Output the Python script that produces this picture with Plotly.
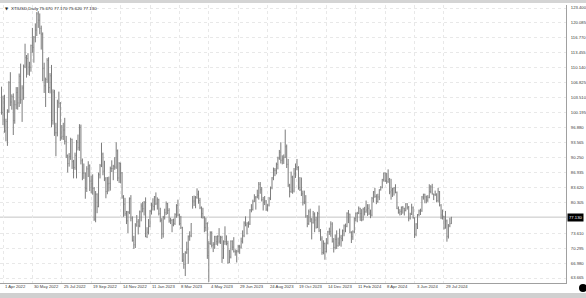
import plotly.graph_objects as go

# 2-trading-day OHLC bars of XTIUSD (Mar 2022 - Aug 2024)
open_ = [
    104.2,
    100.3,103.3,96.2,98.3,100.6,106.9,102.6,103.8,98.5,102.0,104.7,102.4,108.3,103.1,105.7,110.5,112.4,112.2,110.3,110.3,
    115.1,114.7,116.9,118.5,122.1,120.7,118.9,117.6,110.0,106.2,107.6,111.8,105.8,108.4,98.5,104.8,95.8,95.8,102.6,102.3,
    94.7,95.0,96.4,93.9,90.7,89.0,90.5,94.3,89.4,88.1,90.8,93.7,92.5,97.0,89.6,86.9,86.9,83.5,87.8,88.5,
    85.1,84.5,83.5,76.7,82.2,79.5,86.5,88.5,91.1,87.3,85.6,82.8,84.5,84.6,87.9,87.9,88.4,88.2,91.8,85.8,
    89.0,86.9,81.6,80.0,77.9,76.3,78.2,81.2,76.9,72.0,71.0,75.4,76.1,75.2,78.3,79.6,79.0,80.3,72.8,73.8,
    75.1,78.4,79.8,79.5,81.6,80.1,81.0,77.9,76.4,73.4,77.1,78.1,80.1,78.6,76.3,76.4,75.4,75.7,77.7,79.7,
    77.6,75.7,74.8,67.6,66.7,69.3,70.0,72.8,73.0,79.5,80.7,80.7,81.5,82.2,80.8,79.2,77.9,77.1,74.8,75.7,
    68.6,71.3,73.7,70.9,71.1,72.8,71.7,72.9,71.8,72.6,68.1,71.7,71.7,71.3,67.1,68.3,71.8,70.5,69.5,69.4,
    69.6,70.6,70.5,71.8,73.0,75.8,75.4,75.8,75.6,78.7,78.8,80.6,81.4,81.6,81.9,84.4,83.2,81.0,80.4,80.7,
    78.9,79.8,81.2,83.6,85.8,87.5,87.5,88.8,90.2,91.5,89.7,90.0,90.4,92.7,88.8,84.2,82.8,86.0,82.9,86.7,
    88.3,88.1,83.7,83.2,82.3,80.4,80.5,77.4,75.7,78.3,76.7,75.9,77.8,76.5,74.9,77.9,74.1,72.3,69.3,71.3,
    69.5,71.4,73.9,73.9,75.6,71.8,70.4,72.2,70.8,71.4,72.7,72.4,74.1,75.2,75.1,78.0,77.8,73.8,72.8,73.9,
    76.8,77.9,78.0,79.1,77.9,76.5,78.9,78.3,78.7,79.1,78.0,77.6,81.3,82.7,81.7,80.6,81.6,83.2,83.7,85.4,
    86.9,85.2,85.0,85.4,82.7,83.1,83.4,83.6,82.6,79.0,78.1,78.4,79.3,79.1,78.6,80.1,79.3,76.9,77.8,79.2,
    77.0,73.3,75.6,77.7,78.5,78.5,81.6,82.2,81.6,80.9,81.5,82.8,83.8,82.3,82.1,82.2,80.8,82.8,79.8,77.6,
    77.2,74.7,76.3,72.9,75.2,75.67,
]
high = [
    106.0,
    104.0,104.2,98.9,101.0,107.2,109.2,104.3,104.5,103.0,105.9,105.9,108.9,111.1,106.3,110.9,115.5,113.0,113.4,111.5,115.3,
    119.0,117.2,120.0,122.5,122.7,122.2,119.5,118.0,111.3,108.0,112.3,112.5,109.0,110.8,105.4,105.3,98.0,103.1,104.9,102.6,
    97.5,98.0,99.1,95.1,91.0,91.3,94.7,94.5,89.8,91.4,94.2,95.4,97.7,97.6,90.1,89.0,87.0,88.4,89.5,88.8,
    86.3,86.6,83.8,82.9,82.4,87.0,88.9,93.6,91.4,89.6,86.0,86.0,86.1,88.3,89.7,88.7,90.4,93.7,92.1,89.3,
    89.2,87.1,82.0,81.4,78.5,78.5,81.5,82.0,77.3,73.0,75.8,77.6,76.7,78.6,80.2,80.5,80.7,81.5,74.9,76.7,
    78.7,80.3,81.3,81.8,82.6,81.5,81.2,79.2,76.9,77.4,79.0,80.6,80.3,79.1,77.0,76.7,76.8,78.0,80.0,81.0,
    77.9,77.4,75.0,69.2,69.6,71.7,73.1,74.0,75.8,81.8,81.9,81.8,83.5,83.0,81.4,79.5,79.2,77.3,77.0,76.0,
    71.8,74.0,74.0,71.6,73.0,73.0,73.1,74.7,73.0,73.0,72.0,75.1,73.1,71.9,69.9,72.0,72.0,72.7,70.0,69.9,
    71.0,71.0,72.6,74.2,76.2,77.3,76.0,76.2,78.9,80.0,81.0,82.2,81.8,83.2,84.9,84.9,83.8,81.6,81.8,80.9,
    80.0,81.6,83.9,86.0,88.1,88.0,89.2,90.5,92.0,93.7,90.8,91.0,96.5,93.2,90.0,84.5,87.2,86.3,88.0,89.0,
    90.0,88.4,86.0,85.9,83.0,83.0,82.0,77.6,78.8,79.0,76.9,78.5,78.2,77.2,78.3,79.7,74.5,72.9,72.0,71.5,
    72.5,74.1,74.8,76.2,76.0,72.5,73.3,74.2,72.6,74.6,73.2,74.4,75.5,75.7,78.2,78.7,77.9,74.0,74.2,77.1,
    78.2,78.3,79.5,79.2,78.9,79.2,79.4,80.8,80.0,80.0,78.8,81.6,82.9,83.6,82.2,82.3,83.3,84.0,85.6,87.0,
    87.0,86.9,87.7,85.8,85.6,83.6,83.8,84.4,82.8,79.5,78.9,79.5,79.6,79.2,80.2,80.2,79.6,78.1,80.1,79.5,
    77.1,75.8,77.8,78.8,79.0,81.8,82.3,82.3,81.9,82.0,84.4,84.2,84.5,82.3,83.0,82.4,83.6,82.9,80.0,78.8,
    77.4,78.5,76.6,75.6,77.0,77.17,
]
low = [
    99.8,
    97.5,95.8,93.9,92.9,100.2,101.7,100.9,95.3,97.8,101.0,100.9,101.5,102.2,98.2,103.1,110.1,108.0,108.6,108.4,109.3,
    113.5,111.3,115.8,117.2,119.0,117.6,114.2,107.2,104.6,101.5,106.8,104.6,104.5,97.0,97.6,95.1,90.6,95.0,101.3,94.0,
    94.3,94.2,93.2,90.2,87.0,88.3,89.8,87.8,85.7,87.6,85.7,91.9,91.8,88.8,85.3,85.6,81.2,82.7,86.0,82.9,
    82.4,82.1,76.3,76.0,78.0,79.3,85.7,88.2,86.4,85.1,81.3,82.2,82.8,83.0,87.1,85.3,87.6,87.8,85.1,84.7,
    84.6,81.2,77.2,77.4,75.6,73.6,77.8,76.2,71.7,70.1,70.3,75.0,73.3,74.9,76.2,78.2,77.5,72.7,72.5,73.3,
    74.9,77.7,78.6,78.6,79.8,78.8,77.5,76.0,72.3,72.6,76.6,77.6,77.8,75.9,75.6,73.8,75.1,75.4,77.0,77.3,
    75.3,74.5,67.2,65.7,64.1,69.0,66.8,71.9,72.7,79.0,79.6,79.1,81.2,80.1,78.9,76.9,76.8,73.8,74.0,67.9,
    62.8,71.0,70.4,69.4,70.1,71.0,70.8,71.3,71.2,67.0,67.9,71.0,70.9,66.8,67.0,68.0,69.8,69.3,68.6,67.1,
    69.3,69.0,70.2,71.3,72.7,75.1,73.3,74.8,75.4,78.2,78.6,80.5,78.8,81.3,81.0,82.3,80.6,78.6,79.8,78.5,
    78.4,79.5,80.9,83.3,85.3,86.2,86.6,87.7,89.8,89.0,88.8,88.9,90.2,88.0,83.8,81.5,82.5,82.3,82.6,85.8,
    87.5,83.2,82.9,81.8,79.7,80.0,77.0,74.9,75.4,76.0,72.2,75.7,73.8,74.6,74.7,73.8,71.9,68.8,68.9,67.7,
    69.3,71.1,73.2,72.8,71.5,69.3,70.0,70.1,70.6,70.8,70.6,71.8,72.9,73.8,74.9,75.8,73.6,71.4,72.1,73.6,
    76.2,76.0,77.8,76.3,76.2,76.4,77.5,78.1,77.4,77.6,76.9,77.3,80.4,81.4,80.0,80.3,80.9,83.0,83.5,85.0,
    84.9,84.5,84.7,82.2,81.0,81.6,81.9,82.4,78.9,77.9,77.5,77.6,77.9,77.5,78.4,78.8,76.2,76.6,77.6,76.8,
    72.5,72.9,74.5,77.3,77.6,78.3,81.0,80.2,80.2,80.5,81.3,82.4,82.1,80.9,81.8,80.4,80.4,79.5,76.7,76.6,
    74.4,74.6,71.7,72.4,74.9,75.62,
]
close = [
    100.3,
    103.3,96.2,98.3,100.6,106.9,102.6,103.8,98.5,102.0,104.7,102.4,108.3,103.1,105.7,110.5,112.4,112.2,110.3,110.3,115.1,
    114.7,116.9,118.5,122.1,120.7,118.9,117.6,110.0,106.2,107.6,111.8,105.8,108.4,98.5,104.8,95.8,95.8,102.6,102.3,94.7,
    95.0,96.4,93.9,90.7,89.0,90.5,94.3,89.4,88.1,90.8,93.7,92.5,97.0,89.6,86.9,86.9,83.5,87.8,88.5,85.1,
    84.5,83.5,76.7,82.2,79.5,86.5,88.5,91.1,87.3,85.6,82.8,84.5,84.6,87.9,87.9,88.4,88.2,91.8,85.8,89.0,
    86.9,81.6,80.0,77.9,76.3,78.2,81.2,76.9,72.0,71.0,75.4,76.1,75.2,78.3,79.6,79.0,80.3,72.8,73.8,75.1,
    78.4,79.8,79.5,81.6,80.1,81.0,77.9,76.4,73.4,77.1,78.1,80.1,78.6,76.3,76.4,75.4,75.7,77.7,79.7,77.6,
    75.7,74.8,67.6,66.7,69.3,70.0,72.8,73.0,75.7,80.7,80.7,81.5,82.2,80.8,79.2,77.9,77.1,74.8,75.7,68.6,
    71.3,73.7,70.9,71.1,72.8,71.7,72.9,71.8,72.6,68.1,71.7,71.7,71.3,67.1,68.3,71.8,70.5,69.5,69.4,69.6,
    70.6,70.5,71.8,73.0,75.8,75.4,75.8,75.6,78.7,78.8,80.6,81.4,81.6,81.9,84.4,83.2,81.0,80.4,80.7,78.9,
    79.8,81.2,83.6,85.8,87.5,87.5,88.8,90.2,91.5,89.7,90.0,90.4,92.7,88.8,84.2,82.8,86.0,82.9,86.7,88.3,
    88.1,83.7,83.2,82.3,80.4,80.5,77.4,75.7,78.3,76.7,75.9,77.8,76.5,74.9,77.9,74.1,72.3,69.3,71.3,69.5,
    71.4,73.9,73.9,75.6,71.8,70.4,72.2,70.8,71.4,72.7,72.4,74.1,75.2,75.1,78.0,77.8,73.8,72.8,73.9,76.8,
    77.9,78.0,79.1,77.9,76.5,78.9,78.3,78.7,79.1,78.0,77.6,81.3,82.7,81.7,80.6,81.6,83.2,83.7,85.4,86.9,
    85.2,85.0,85.4,82.7,83.1,83.4,83.6,82.6,79.0,78.1,78.4,79.3,79.1,78.6,80.1,79.3,76.9,77.8,79.2,77.0,
    73.3,75.6,77.7,78.5,78.5,81.6,82.2,81.6,80.9,81.5,82.8,83.8,82.3,82.1,82.2,80.8,82.8,79.8,77.6,77.2,
    74.7,76.3,72.9,75.2,75.7,77.13,
]

date_labels = ["1 Apr 2022", "30 May 2022", "25 Jul 2022", "19 Sep 2022", "14 Nov 2022",
               "11 Jan 2023", "8 Mar 2023", "4 May 2023", "29 Jun 2023", "24 Aug 2023",
               "19 Oct 2023", "14 Dec 2023", "11 Feb 2024", "8 Apr 2024", "3 Jun 2024",
               "29 Jul 2024"]
price_ticks = [123.400, 120.085, 116.770, 113.455, 110.140, 106.825, 103.510, 100.195,
               96.880, 93.565, 90.250, 86.935, 83.620, 80.305, 73.610, 70.295, 66.980, 63.665]
last_price = 77.130
title_text = "XTIUSD,Daily 75.670 77.170 75.620 77.130"

bars_per_label = 20
label_pos = [1 + bars_per_label * i for i in range(len(date_labels))]
xs = list(range(len(close)))

FONT = "Liberation Sans"
BAR = "#7c7c7c"
GRID = "#e8e8e8"
TXT = "#3a3a3a"

fig = go.Figure(go.Ohlc(
    x=xs, open=open_, high=high, low=low, close=close,
    increasing=dict(line=dict(color=BAR, width=1)),
    decreasing=dict(line=dict(color=BAR, width=1)),
    tickwidth=0.3, hoverinfo="skip",
))

W, H = 586, 298
ml, mr, mt, mb = 0, 20, 5, 15
pw, ph = W - ml - mr, H - mt - mb

def py(ypix):  # pixel y -> paper y
    return (H - mb - ypix) / ph

def px(xpix):
    return (xpix - ml) / pw

fig.update_layout(
    width=W, height=H,
    margin=dict(l=ml, r=mr, t=mt, b=mb, pad=0),
    paper_bgcolor="white", plot_bgcolor="white",
    showlegend=False,
    font=dict(family=FONT, size=4, color=TXT),
    xaxis=dict(
        range=[-1.04, 384.0], tickvals=label_pos, showticklabels=False,
        showgrid=True, gridcolor=GRID, griddash="dot", gridwidth=1,
        zeroline=False, showline=True, linecolor="#a0a0a0", linewidth=1,
        ticks="", rangeslider=dict(visible=False), fixedrange=True,
    ),
    yaxis=dict(
        side="right", range=[62.559, 124.064],
        tickvals=price_ticks, ticktext=[f"{v:.3f}" for v in price_ticks],
        tickfont=dict(size=4.2, color=TXT, family=FONT),
        showgrid=True, gridcolor=GRID, griddash="dot", gridwidth=1,
        zeroline=False, showline=True, linecolor="#a0a0a0", linewidth=1,
        ticks="", ticklabelstandoff=3, fixedrange=True,
    ),
)

shapes = [
    dict(type="line", xref="paper", yref="y", x0=0, x1=1, y0=last_price, y1=last_price,
         line=dict(color="#c4c4c4", width=1), layer="below"),
    dict(type="rect", xref="paper", yref="paper", x0=0, x1=px(W), y0=py(3), y1=py(0),
         fillcolor="#d4d4d4", line=dict(width=0)),
    dict(type="rect", xref="paper", yref="paper", x0=0, x1=px(W), y0=py(298), y1=py(293),
         fillcolor="#d0d0d0", line=dict(width=0)),
    dict(type="circle", xref="paper", yref="paper", x0=px(579), x1=px(587), y0=py(292), y1=py(284),
         fillcolor="black", line=dict(width=0)),
]
fig.update_layout(shapes=shapes)

ann = []
for pos, txt in zip(label_pos, date_labels):
    ann.append(dict(x=pos, y=py(286.5), xref="x", yref="paper", text=txt, showarrow=False,
                    xanchor="left", yanchor="middle", xshift=0,
                    font=dict(size=4.2, color=TXT, family=FONT)))
ann.append(dict(x=1, y=last_price, xref="paper", yref="y", text=f"{last_price:.3f}", showarrow=False,
                xanchor="left", yanchor="middle", xshift=1, bgcolor="black", borderpad=1,
                font=dict(size=4.2, color="white", family=FONT)))
ann.append(dict(x=0, y=py(8), xref="paper", yref="paper", text="▼", showarrow=False,
                xanchor="left", yanchor="middle", xshift=3,
                font=dict(size=4, color="#222222", family="DejaVu Sans")))
ann.append(dict(x=0, y=py(8), xref="paper", yref="paper", text=title_text, showarrow=False,
                xanchor="left", yanchor="middle", xshift=9,
                font=dict(size=4.4, color="#222222", family=FONT)))
fig.update_layout(annotations=ann)

fig.write_html("out.html", config={"displayModeBar": False})
